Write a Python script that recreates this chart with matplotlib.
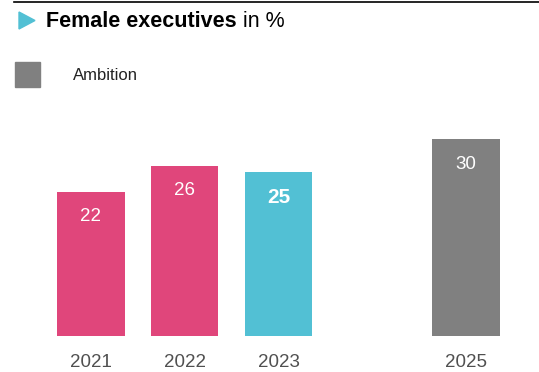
import matplotlib
matplotlib.use("Agg")
import matplotlib.pyplot as plt
from matplotlib.patches import Polygon, Rectangle
from matplotlib.lines import Line2D

plt.rcParams['font.family'] = ['Liberation Sans', 'DejaVu Sans']

# Data
years = ["2021", "2022", "2023", "2025"]
positions = [0, 1, 2, 4]
values = [22, 26, 25, 30]
colors = ["#E0467B", "#E0467B", "#52C0D4", "#808080"]

W, H = 539, 372
fig = plt.figure(figsize=(W / 100, H / 100), dpi=100)

def fx(px):
    return px / W

def fy(py):
    return 1 - py / H

# Plot area
left, right, top, bottom = 44, 513, 100, 336
ax = fig.add_axes([fx(left), fy(bottom), fx(right - left), (bottom - top) / H])
bars = ax.bar(positions, values, width=0.72, color=colors)
ax.set_xlim(-0.5, 4.5)
ax.set_ylim(0, 36)
ax.set_xticks(positions)
ax.set_xticklabels([])
ax.tick_params(axis="x", length=0)
ax.set_yticks([])
for s in ax.spines.values():
    s.set_visible(False)

# Year labels under the bars
for p, y in zip(positions, years):
    ax.annotate(y, xy=(p, 0), xytext=(0, -(362.5 - bottom)), textcoords="offset pixels",
                ha="center", va="center", color="#505050", fontsize=13.5)

# Values inside the bars
for i, (p, v) in enumerate(zip(positions, values)):
    bold = years[i] == "2023"
    ax.annotate(f"{v}", xy=(p, v), xytext=(0, -25), textcoords="offset pixels",
                ha="center", va="center", color="white",
                fontsize=15 if bold else 13.5,
                fontweight="bold" if bold else "normal")

# Header rule
fig.add_artist(Line2D([fx(14), 1.0], [fy(1.5), fy(1.5)], color="black", lw=1.2))

# Triangle marker
tri = Polygon([[fx(19), fy(12)], [fx(19), fy(29)], [fx(35), fy(20.5)]],
              closed=True, color="#52C0D4", transform=fig.transFigure)
fig.add_artist(tri)

# Title
t1 = fig.text(fx(46), fy(21.5), "Female executives", fontsize=15.5,
              fontweight="bold", va="center", ha="left", color="black")
fig.canvas.draw()
bb = t1.get_window_extent()
fig.text(bb.x1 / W, fy(21.5), " in %", fontsize=15.5, va="center", ha="left",
         color="black")

# Legend
fig.add_artist(Rectangle((fx(15), fy(87)), fx(25), 25 / H, color="#808080",
                         transform=fig.transFigure))
fig.text(fx(73), fy(76), "Ambition", fontsize=12, va="center", ha="left",
         color="#222222")

fig.savefig("out.png", dpi=100)
